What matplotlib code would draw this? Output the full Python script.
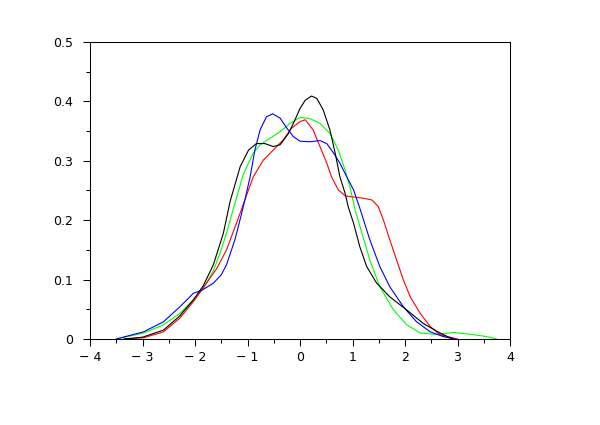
import numpy as np
import matplotlib
matplotlib.use("Agg")
import matplotlib.pyplot as plt
from matplotlib.ticker import MultipleLocator, FuncFormatter

# density curves
black_x = [-3.35, -3.0, -2.6, -2.3, -2.03, -1.84, -1.65, -1.46, -1.33, -1.14, -0.98, -0.83,
           -0.67, -0.51, -0.38, -0.22, -0.1, 0.0, 0.1, 0.22, 0.32, 0.44, 0.57, 0.67,
           0.76, 0.86, 0.92, 1.02, 1.14, 1.27, 1.46, 1.71, 2.03, 2.35, 2.67, 2.9]
black_y = [0.0, 0.003, 0.015, 0.038, 0.066, 0.09, 0.125, 0.178, 0.232, 0.290, 0.318, 0.329,
           0.329, 0.324, 0.327, 0.346, 0.368, 0.388, 0.402, 0.409, 0.405, 0.386, 0.352, 0.313,
           0.273, 0.245, 0.222, 0.195, 0.155, 0.122, 0.094, 0.071, 0.049, 0.026, 0.010, 0.0]

blue_x = [-3.5, -2.98, -2.6, -2.29, -2.03, -1.87, -1.65, -1.5, -1.4, -1.24, -1.11, -1.05,
          -0.95, -0.86, -0.76, -0.64, -0.52, -0.38, -0.25, -0.13, 0.0, 0.19, 0.38, 0.51,
          0.64, 0.76, 0.89, 1.02, 1.14, 1.33, 1.52, 1.71, 1.97, 2.22, 2.48, 2.73, 2.95]
blue_y = [0.0, 0.012, 0.029, 0.054, 0.077, 0.082, 0.094, 0.108, 0.125, 0.167, 0.212, 0.234,
          0.273, 0.318, 0.352, 0.374, 0.379, 0.372, 0.355, 0.341, 0.333, 0.332, 0.334, 0.329,
          0.313, 0.296, 0.273, 0.251, 0.220, 0.167, 0.122, 0.088, 0.054, 0.029, 0.012, 0.004, 0.0]

green_x = [-3.5, -2.98, -2.6, -2.29, -2.03, -1.84, -1.65, -1.52, -1.40, -1.24, -1.08, -0.89,
           -0.76, -0.57, -0.38, -0.19, 0.0, 0.19, 0.38, 0.57, 0.73, 0.86, 0.95, 1.05,
           1.14, 1.33, 1.52, 1.78, 2.03, 2.29, 2.54, 2.75, 2.92, 3.24, 3.56, 3.75]
green_y = [0.0, 0.010, 0.024, 0.043, 0.066, 0.085, 0.115, 0.145, 0.178, 0.228, 0.277, 0.313,
           0.327, 0.338, 0.349, 0.363, 0.373, 0.371, 0.363, 0.346, 0.318, 0.284, 0.256, 0.217,
           0.190, 0.133, 0.088, 0.049, 0.024, 0.010, 0.008, 0.009, 0.011, 0.008, 0.004, 0.0]

red_x = [-3.35, -2.98, -2.6, -2.29, -2.03, -1.78, -1.59, -1.40, -1.21, -1.05, -0.89, -0.70,
         -0.51, -0.32, -0.16, 0.0, 0.1, 0.25, 0.38, 0.51, 0.60, 0.73, 0.86, 1.02,
         1.21, 1.37, 1.49, 1.59, 1.71, 1.84, 1.97, 2.10, 2.29, 2.48, 2.67, 3.0]
red_y = [0.0, 0.002, 0.012, 0.035, 0.063, 0.094, 0.118, 0.150, 0.195, 0.234, 0.273, 0.301,
         0.318, 0.335, 0.355, 0.366, 0.369, 0.352, 0.324, 0.296, 0.273, 0.251, 0.241, 0.239,
         0.237, 0.234, 0.223, 0.200, 0.167, 0.133, 0.099, 0.071, 0.043, 0.021, 0.007, 0.0]

fig = plt.figure(figsize=(6, 4.25), dpi=100)
ax = fig.add_axes([0.15, 0.2024, 0.70, 0.6988])

lw = 0.8
ax.plot(green_x, green_y, color='#00ff00', lw=lw)
ax.plot(red_x, red_y, color='#ff0000', lw=lw)
ax.plot(blue_x, blue_y, color='#0000ff', lw=lw)
ax.plot(black_x, black_y, color='black', lw=lw)

ax.set_xlim(-4, 4)
ax.set_ylim(0, 0.5)

ax.xaxis.set_major_locator(MultipleLocator(1))
ax.xaxis.set_minor_locator(MultipleLocator(0.5))
ax.yaxis.set_major_locator(MultipleLocator(0.1))
ax.yaxis.set_minor_locator(MultipleLocator(0.05))
ax.xaxis.set_major_formatter(FuncFormatter(lambda v, p: ('%g' % round(v, 2)).replace('-', '\u2212 ')))
ax.yaxis.set_major_formatter(FuncFormatter(lambda v, p: '%g' % round(v, 2)))

for s in ax.spines.values():
    s.set_linewidth(0.75)
ax.tick_params(which='both', direction='out', width=0.75, labelsize=9, colors='black')
ax.tick_params(which='major', length=5)
ax.tick_params(which='minor', length=3)
ax.tick_params(axis='y', which='major', pad=7)
ax.tick_params(axis='x', which='major', pad=4)

fig.savefig('out.png', dpi=100)
